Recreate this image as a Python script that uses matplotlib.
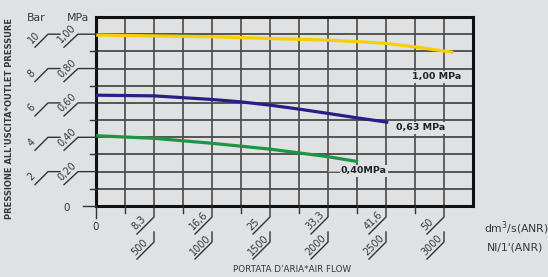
import matplotlib
matplotlib.use("Agg")
import matplotlib.pyplot as plt
from matplotlib.lines import Line2D
import numpy as np

# ---------------- data ----------------
yellow_flow = [0, 500, 1000, 1500, 2000, 2250, 2500, 2750, 3080]
yellow_p = [0.995, 0.99, 0.985, 0.975, 0.965, 0.957, 0.946, 0.926, 0.894]
blue_flow = [0, 500, 1000, 1250, 1500, 1750, 2000, 2250, 2520]
blue_p = [0.645, 0.641, 0.62, 0.606, 0.587, 0.564, 0.539, 0.513, 0.487]
green_flow = [0, 500, 1000, 1500, 2000, 2260]
green_p = [0.409, 0.394, 0.365, 0.331, 0.287, 0.258]
curve_labels = ["1,00 MPa", "0,63 MPa", "0,40MPa"]

x_ticks = [500, 1000, 1500, 2000, 2500, 3000]
x_dm3_labels = ["8,3", "16,6", "25", "33,3", "41,6", "50"]
x_nl_labels = ["500", "1000", "1500", "2000", "2500", "3000"]
y_ticks = [1.0, 0.8, 0.6, 0.4, 0.2]
y_mpa_labels = ["1,00", "0,80", "0,60", "0,40", "0,20"]
y_bar_labels = ["10", "8", "6", "4", "2"]

BG = "#dfe1e3"
TXT = "#383838"
W, H = 548, 277

fig = plt.figure(figsize=(W / 100, H / 100), dpi=100, facecolor=BG)
ax = fig.add_axes([96 / W, 1 - 206 / H, (473 - 96) / W, (206 - 17) / H])
ax.set_facecolor(BG)
ax.set_xlim(0, 3250)
ax.set_ylim(0, 1.1)

# grid
for xv in np.arange(250, 3250, 250):
    ax.axvline(xv, color="#3c3c3c", lw=1.1, zorder=1)
for yv in np.arange(0.1, 1.05, 0.1):
    ax.axhline(yv, color="#4a4a4a", lw=1.3, zorder=1)
ax.set_xticks([]); ax.set_yticks([])
for s in ax.spines.values():
    s.set_linewidth(2.2)
    s.set_color("#111111")

# curves
ax.plot(yellow_flow, yellow_p, color="#f6cf00", lw=2.3, zorder=3, solid_capstyle="butt")
ax.plot(blue_flow, blue_p, color="#2b1d86", lw=2.3, zorder=3, solid_capstyle="butt")
ax.plot(green_flow, green_p, color="#1f9447", lw=2.3, zorder=3, solid_capstyle="butt")

bbox = dict(boxstyle="square,pad=0.15", fc=BG, ec="none")
ax.text(2940, 0.752, curve_labels[0], fontsize=6.8, fontweight="bold", color="#222222",
        ha="center", va="center", bbox=bbox, zorder=4)
ax.text(2800, 0.455, curve_labels[1], fontsize=6.8, fontweight="bold", color="#222222",
        ha="center", va="center", bbox=bbox, zorder=4)
ax.text(2310, 0.205, curve_labels[2], fontsize=6.8, fontweight="bold", color="#222222",
        ha="center", va="center", bbox=bbox, zorder=4)

fig.canvas.draw()

def to_img(xd, yd):
    dx, dy = ax.transData.transform((xd, yd))
    return dx, H - dy

def line_img(xs, ys, lw=1.0, color="#333333"):
    fig.add_artist(Line2D([x / W for x in xs], [1 - y / H for y in ys],
                          transform=fig.transFigure, lw=lw, color=color))

def text_img(x, y, s, **kw):
    fig.text(x / W, 1 - y / H, s, **kw)

# pink leader before 0,40MPa
lx0, ly0 = to_img(2000, 0.205)
lx1, _ = to_img(2100, 0.205)
line_img([lx0, lx1], [ly0, ly0], lw=0.8, color="#e08a9a")

# x axis ticks & labels
xi0, yb = to_img(0, 0)
line_img([xi0, xi0], [yb, yb + 12], lw=1.0)
text_img(xi0, yb + 21, "0", fontsize=7.5, color=TXT, ha="center", va="center")
for xv in np.arange(250, 3250, 500):
    xi, _ = to_img(xv, 0)
    line_img([xi, xi], [yb, yb + 7], lw=1.0)
for xv, l1, l2 in zip(x_ticks, x_dm3_labels, x_nl_labels):
    xi, _ = to_img(xv, 0)
    line_img([xi, xi, xi - 17], [yb, yb + 11, yb + 28], lw=1.0)
    text_img(xi - 17, yb + 26, l1, fontsize=7, color=TXT, rotation=45,
             rotation_mode="anchor", ha="left", va="bottom")
    line_img([xi, xi, xi - 17], [yb + 26, yb + 36, yb + 53], lw=1.0)
    text_img(xi - 17, yb + 51, l2, fontsize=7, color=TXT, rotation=45,
             rotation_mode="anchor", ha="left", va="bottom")

text_img(484, 228, "dm$^3$/s(ANR)", fontsize=7.8, color=TXT, ha="left", va="center")
text_img(487, 247, "Nl/1'(ANR)", fontsize=7.8, color=TXT, ha="left", va="center")
text_img(292, 269, "PORTATA D'ARIA*AIR FLOW", fontsize=6.3, color=TXT, ha="center", va="center")

# y axis ticks & labels
xl, _ = to_img(0, 0)
for yv in np.arange(0.1, 1.05, 0.2):
    _, yi = to_img(0, yv)
    line_img([xl - 6, xl], [yi, yi], lw=1.0)
_, y0 = to_img(0, 0)
line_img([xl - 13, xl], [y0, y0], lw=1.0)
text_img(67, y0 + 2, "0", fontsize=7.5, color=TXT, ha="center", va="center")
for yv, lm, lb in zip(y_ticks, y_mpa_labels, y_bar_labels):
    _, yi = to_img(0, yv)
    line_img([64, 78, xl], [yi + 13, yi, yi], lw=1.0)
    text_img(63, yi + 11, lm, fontsize=7, color=TXT, rotation=45,
             rotation_mode="anchor", ha="left", va="bottom")
    line_img([35, 48, 60], [yi + 13, yi, yi], lw=1.0)
    text_img(33, yi + 11, lb, fontsize=7, color=TXT, rotation=45,
             rotation_mode="anchor", ha="left", va="bottom")

text_img(36, 18, "Bar", fontsize=7.8, color=TXT, ha="center", va="center")
text_img(78, 18, "MPa", fontsize=7.8, color=TXT, ha="center", va="center")
text_img(10, 118, "PRESSIONE ALL'USCITA*OUTLET PRESSURE", fontsize=6.0, color=TXT,
         fontweight="bold", rotation=90, ha="center", va="center")

fig.savefig("out.png", dpi=100, facecolor=BG)
